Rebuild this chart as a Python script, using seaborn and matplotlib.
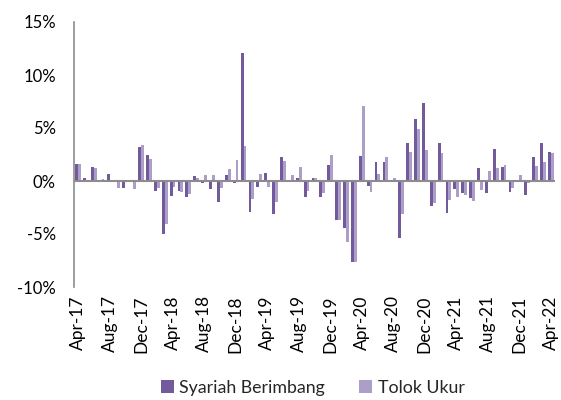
import numpy as np
import matplotlib
matplotlib.use("Agg")
import matplotlib.pyplot as plt
import seaborn as sns
import pandas as pd

# monthly returns (%), Apr-17 .. Apr-22
months = pd.date_range("2017-04-01", periods=61, freq="MS").strftime("%b-%y").tolist()
syariah = [1.6, 0.25, 1.3, -0.05, 0.7, 0.0, -0.65, 0.0, 3.2, 2.5,
           -0.95, -5.0, -1.4, -0.9, -1.55, 0.45, -0.2, -0.75, -1.95, 0.6,
           -0.15, 12.1, -2.95, -0.55, 0.75, -3.15, 2.25, 0.0, 0.3, -1.5,
           0.3, -1.5, 1.5, -3.7, -4.4, -7.6, 2.4, -0.45, 1.8, 1.75,
           0.0, -5.4, 3.6, 5.85, 7.35, -2.4, 3.55, -3.05, -0.8, -1.1,
           -1.65, 1.2, -1.15, 3.0, 1.35, -1.05, -0.1, -1.3, 2.3, 3.55,
           2.7]
tolok = [1.6, 0.05, 1.25, 0.2, 0.1, -0.65, -0.1, -0.8, 3.4, 2.1,
         -0.7, -4.1, -0.55, -1.05, -1.25, 0.3, 0.6, 0.6, -0.7, 1.1,
         1.95, 3.3, -1.7, 0.7, -0.6, -1.95, 1.85, 0.6, 1.3, -0.9,
         0.3, -1.15, 2.5, -3.7, -5.75, -7.6, 7.1, -1.0, 0.65, 2.25,
         0.25, -3.15, 2.75, 4.95, 2.9, -2.05, 2.65, -1.8, -1.5, -1.3,
         -1.85, -0.85, 0.9, 1.25, 1.5, -0.7, 0.55, -0.2, 1.45, 1.8,
         2.6]
series_names = ["Syariah Berimbang", "Tolok Ukur"]
colors = ["#725a9b", "#ab9ec8"]

df = pd.DataFrame({"Month": months * 2,
                   "Return": syariah + tolok,
                   "Series": [series_names[0]] * len(months) + [series_names[1]] * len(months)})

sns.set_style("white")
plt.rcParams["font.family"] = ["Lato", "DejaVu Sans"]

fig = plt.figure(figsize=(5.61, 4.0), dpi=100)
ax = fig.add_axes([0.132, 0.2825, 0.857, 0.6625])

sns.barplot(data=df, x="Month", y="Return", hue="Series", order=months,
            hue_order=series_names, palette=colors, width=0.72, gap=0,
            saturation=1, linewidth=0, ax=ax)

ax.axhline(0, color="#8c8c8c", lw=1.5, zorder=5)
ax.set_xlim(-0.5, len(months) - 0.5)
ax.set_ylim(-10, 15)
ax.set_yticks(range(-10, 16, 5))
ax.set_yticklabels([f"{v}%" for v in range(-10, 16, 5)])
ax.set_xticks(range(0, len(months), 4))
ax.set_xticklabels(months[::4], rotation=90)
ax.set_xlabel("")
ax.set_ylabel("")
ax.tick_params(axis="y", length=0, pad=13, labelsize=12, colors="#000000")
ax.tick_params(axis="x", length=0, pad=6, labelsize=12.5, colors="#000000")
for s in ["top", "right", "bottom"]:
    ax.spines[s].set_visible(False)
ax.spines["left"].set_color("#8c8c8c")
ax.spines["left"].set_linewidth(1.2)

ax.legend(loc="upper center", bbox_to_anchor=(0.496, -0.35), ncol=2, frameon=False,
          fontsize=12.8, handlelength=0.75, handleheight=0.75, handletextpad=0.3,
          columnspacing=1.9, borderaxespad=0, borderpad=0)

fig.savefig("out.png", dpi=100)
